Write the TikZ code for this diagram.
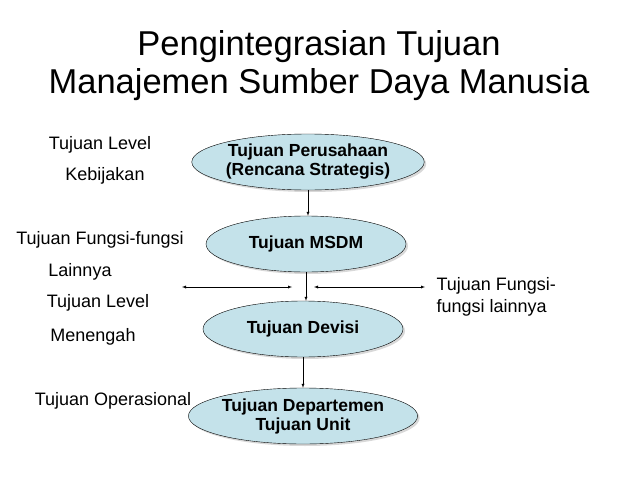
\documentclass[tikz,border=0pt]{standalone}
\usepackage{fontspec}
\setmainfont{Liberation Sans}
\usetikzlibrary{shapes.geometric,shadows}
\definecolor{goalfill}{RGB}{196,226,234}
\tikzset{
  goal/.style={ellipse, draw, fill=goalfill, minimum width=200pt, minimum height=56pt,
    font=\fontsize{17.5}{19}\selectfont\bfseries, align=center, inner sep=0pt,
    drop shadow={shadow xshift=2pt, shadow yshift=-2pt, fill=gray!60}},
  side/.style={font=\fontsize{18}{22}\selectfont},
  link/.style={-latex}
}
\begin{document}
\begin{tikzpicture}[x=1pt,y=-1pt]
  \useasboundingbox (0,0) rectangle (638,479);
  % title
  \node[font=\fontsize{34.5}{38}\selectfont, align=center] (title) at (319,66)
    {Pengintegrasian Tujuan\\Manajemen Sumber Daya Manusia};

  % goal ellipses
  \node[goal, minimum width=210pt] (perusahaan) at (308,162) {Tujuan Perusahaan\\(Rencana Strategis)};
  \node[goal] (msdm) at (306,244) {Tujuan MSDM};
  \node[goal] (devisi) at (303,329) {Tujuan Devisi};
  \node[goal, minimum width=196pt] (departemen) at (303,416) {Tujuan Departemen\\Tujuan Unit};

  \draw[link] (perusahaan.south) -- (perusahaan.south |- msdm.north);
  \draw[link] (msdm.south) -- (msdm.south |- devisi.north);
  \draw[link] (devisi.south) -- (devisi.south |- departemen.north);

  % side arrows
  \coordinate (l1) at (182,287);
  \coordinate (l2) at (292,287);
  \coordinate (r1) at (314,287);
  \coordinate (r2) at (425,287);
  \draw[latex-latex] (l1) -- (l2);
  \draw[latex-latex] (r1) -- (r2);

  % side labels
  \node[side] (lvl1) at (100,145) {Tujuan Level};
  \node[side] (kebijakan) at (105,176) {Kebijakan};
  \node[side] (fungsi) at (100,240) {Tujuan Fungsi-fungsi};
  \node[side] (lainnya) at (80,272) {Lainnya};
  \node[side] (lvl2) at (98,303) {Tujuan Level};
  \node[side] (menengah) at (93,337) {Menengah};
  \node[side] (operasional) at (113,401) {Tujuan Operasional};
  \node[side, align=left, anchor=west] (fungsikanan) at (433,297) {Tujuan Fungsi-\\fungsi lainnya};
\end{tikzpicture}
\end{document}
